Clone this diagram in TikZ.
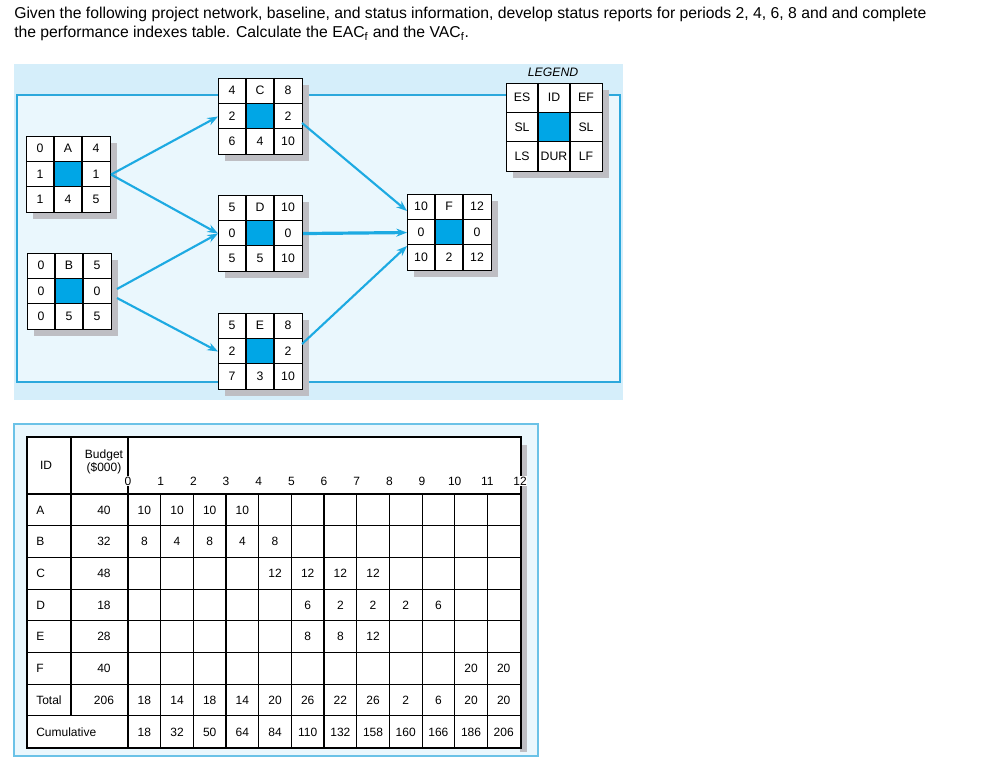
\documentclass[tikz,border=0pt]{standalone}
\usepackage{fontspec}
\setmainfont{Liberation Sans}
\usetikzlibrary{arrows.meta}
\definecolor{cellblue}{RGB}{0,166,230}
\definecolor{arrblue}{RGB}{29,170,226}
\definecolor{frameblue}{RGB}{44,168,220}
\definecolor{bgout}{RGB}{213,238,250}
\definecolor{bgin}{RGB}{234,247,253}
\definecolor{shadowc}{RGB}{190,190,195}
\tikzset{
 cell/.style={font=\fontsize{9.2}{10}\selectfont, inner sep=0pt},
 arr/.style={draw=arrblue, line width=1.6pt, -{Stealth[length=8pt,width=6pt]}},
 tcell/.style={font=\fontsize{9}{10}\selectfont, inner sep=0pt},
}
\def\bw{84}\def\bh{76}
\def\getA#1#2#3{#1}\def\getB#1#2#3{#2}\def\getC#1#2#3{#3}
\newcommand\actbox[9]{%
 \fill[shadowc] ({#2+7},{#3+7}) rectangle ++(\bw,\bh);
 \node[draw, line width=0.8pt, fill=white, inner sep=0pt, anchor=north west,
   minimum width={\bw*0.75pt}, minimum height={\bh*0.75pt}] (#1) at (#2,#3) {};
 \fill[cellblue] ({#2+\bw/3},{#3+\bh/3}) rectangle ++({\bw/3},{\bh/3});
 \draw[line width=0.8pt] ({#2+\bw/3},#3) -- ++(0,\bh) ({#2+2*\bw/3},#3) -- ++(0,\bh)
   (#2,{#3+\bh/3}) -- ++(\bw,0) (#2,{#3+2*\bh/3}) -- ++(\bw,0);
 \node[cell] at ({#2+\bw/6},{#3+\bh/6}) {#4};
 \node[cell] at ({#2+\bw/2},{#3+\bh/6}) {#5};
 \node[cell] at ({#2+5*\bw/6},{#3+\bh/6}) {#6};
 \node[cell] at ({#2+\bw/6},{#3+\bh/2}) {#7};
 \node[cell] at ({#2+5*\bw/6},{#3+\bh/2}) {#8};
 \node[cell] at ({#2+\bw/6},{#3+5*\bh/6}) {\getA#9};
 \node[cell] at ({#2+\bw/2},{#3+5*\bh/6}) {\getB#9};
 \node[cell] at ({#2+5*\bw/6},{#3+5*\bh/6}) {\getC#9};
}
\begin{document}
\begin{tikzpicture}[x=0.75pt,y=-0.75pt]
\useasboundingbox (0,0) rectangle (992,763);
\node[anchor=north west, inner sep=0pt, align=left, font=\fontsize{11.8}{14.5}\selectfont] (title) at (14,7)
 {Given the following project network, baseline, and status information, develop status reports for periods 2, 4, 6, 8 and and complete\\
 the performance indexes table. Calculate the EAC\textsubscript{f} and the VAC\textsubscript{f}.};
% network background
\fill[bgout] (14,64) rectangle (623,400);
\fill[bgin] (17,95) rectangle (620,382);
\draw[frameblue, line width=1.5pt] (17,95) rectangle (620,382);
\actbox{A}{26}{136}{0}{A}{4}{1}{1}{{1}{4}{5}}
\actbox{B}{27}{253}{0}{B}{5}{0}{0}{{0}{5}{5}}
\actbox{C}{218}{78}{4}{C}{8}{2}{2}{{6}{4}{10}}
\actbox{D}{218}{195}{5}{D}{10}{0}{0}{{5}{5}{10}}
\actbox{E}{218}{313}{5}{E}{8}{2}{2}{{7}{3}{10}}
\actbox{F}{407}{194}{10}{F}{12}{0}{0}{{10}{2}{12}}
\def\bw{96}\def\bh{88}
\actbox{L}{506}{83}{ES}{ID}{EF}{SL}{SL}{{LS}{DUR}{LF}}
\node[font=\itshape\fontsize{9.2}{10}\selectfont] (legt) at (553,72) {LEGEND};
% connectors
\coordinate (Bo1) at (117,289);
\coordinate (Bo2) at (117,298);
\coordinate (Co) at (302,123);
\coordinate (Eo) at (302,344);
\coordinate (Fi1) at (407,211);
\coordinate (Fi3) at (407,246);
\draw[arr] (A.east) -- (C.west);
\draw[arr] (A.east) -- (D.west);
\draw[arr] (Bo1) -- (D.west);
\draw[arr] (Bo2) -- (E.west);
\draw[arr] (Co) -- (Fi1);
\draw[arr, line width=2.4pt] (D.east) -- (F.west);
\draw[arr] (Eo) -- (Fi3);
% table
\fill[bgin] (14,424) rectangle (538,756);
\draw[frameblue!70, line width=1.5pt] (14,424) rectangle (538,756);
\fill[shadowc] (520,445) rectangle (527,752);
\node[draw, line width=1.4pt, fill=white, inner sep=0pt, anchor=north west,
  minimum width={494*0.75pt}, minimum height={311*0.75pt}] (T) at (26,436) {};
\foreach \k in {0,...,7} \draw[line width=0.8pt] (26,{494+31.7*\k}) -- (520,{494+31.7*\k});
\draw[line width=0.8pt] (71,436) -- (71,716);
\draw[line width=1.6pt] (128,436) -- (128,747);
\foreach \i in {1,...,11} \draw[line width=0.8pt] ({128+32.67*\i},494) -- ({128+32.67*\i},747);
\foreach \i in {0,...,12} \node[tcell, fill=white, inner sep=0.5pt] at ({128+32.67*\i},481) {\i};
\node[tcell] at (46,465) {ID};
\node[tcell, align=center] at (104,462) {Budget\\(\$000)};
\newcommand\trow[4]{% row index, label, budget, list of col/value
 \node[tcell, anchor=west] at (36,{510+31.7*#1}) {#2};
 \node[tcell] at (104,{510+31.7*#1}) {#3};
 \foreach \c/\v in {#4} \node[tcell] at ({128+32.67*(\c+0.5)},{510+31.7*#1}) {\v};}
\trow{0}{A}{40}{0/10,1/10,2/10,3/10}
\trow{1}{B}{32}{0/8,1/4,2/8,3/4,4/8}
\trow{2}{C}{48}{4/12,5/12,6/12,7/12}
\trow{3}{D}{18}{5/6,6/2,7/2,8/2,9/6}
\trow{4}{E}{28}{5/8,6/8,7/12}
\trow{5}{F}{40}{10/20,11/20}
\trow{6}{Total}{206}{0/18,1/14,2/18,3/14,4/20,5/26,6/22,7/26,8/2,9/6,10/20,11/20}
\trow{7}{Cumulative}{}{0/18,1/32,2/50,3/64,4/84,5/110,6/132,7/158,8/160,9/166,10/186,11/206}
\end{tikzpicture}
\end{document}
